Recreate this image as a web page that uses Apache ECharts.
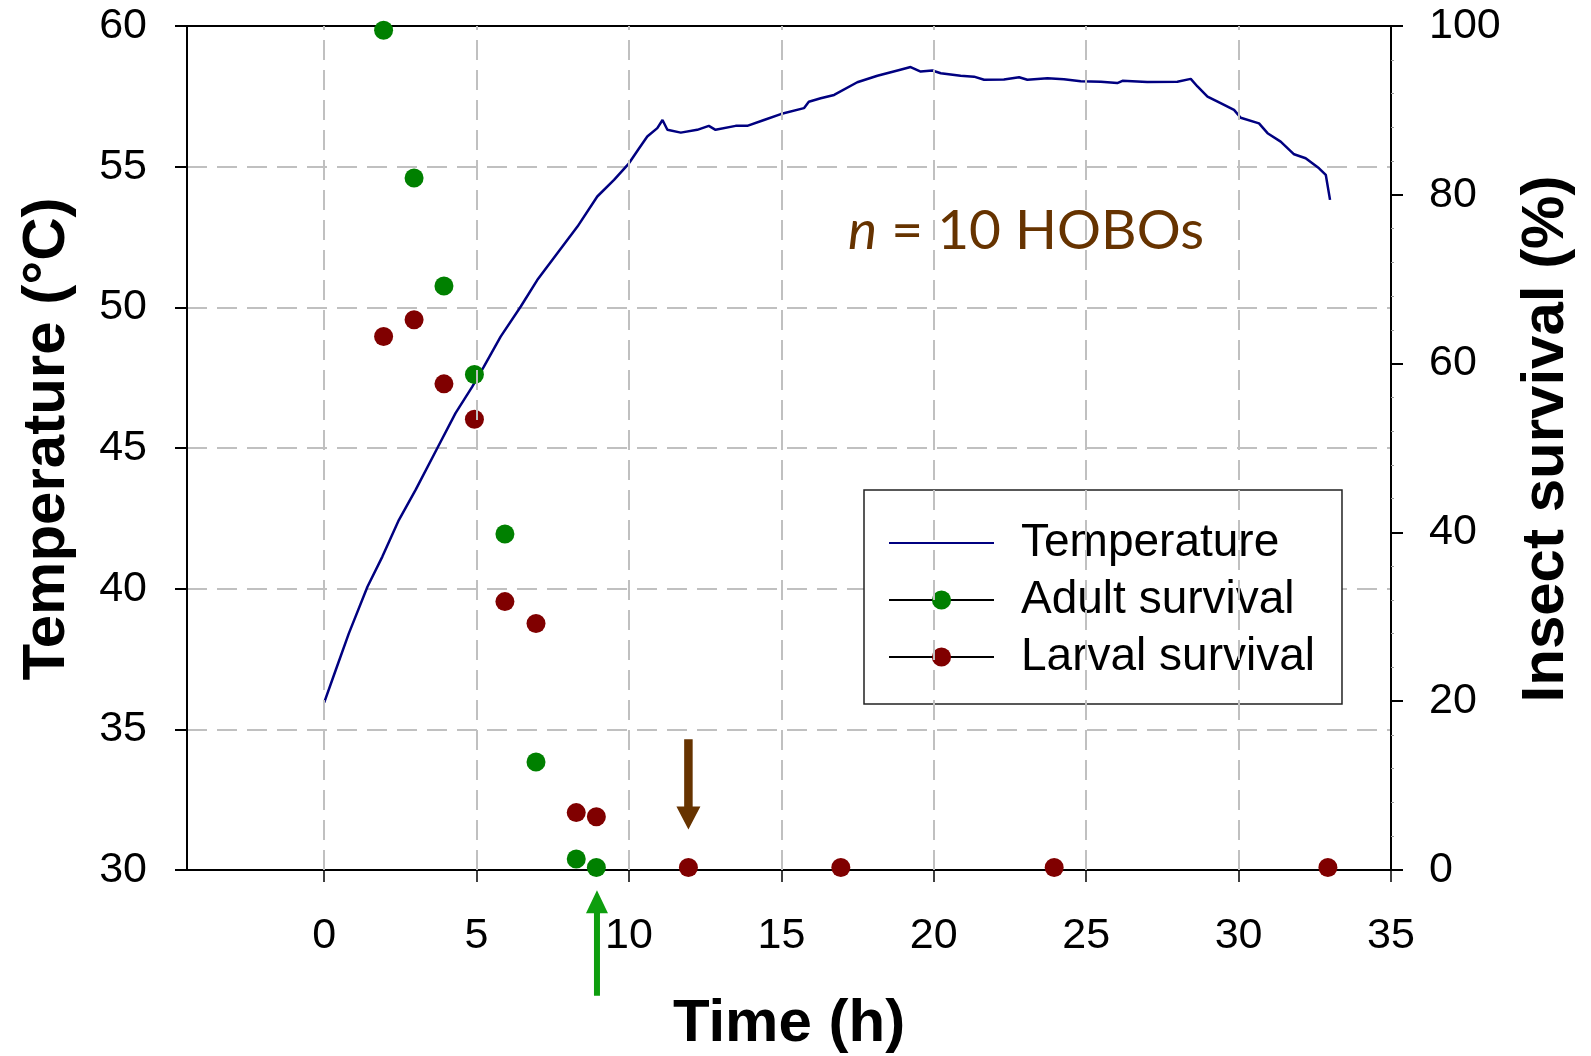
<!DOCTYPE html>
<html>
<head>
<meta charset="utf-8">
<script src="https://cdn.jsdelivr.net/npm/echarts@6/dist/echarts.min.js"></script>
<style>
  html, body { margin: 0; padding: 0; background: #ffffff; }
  #chart { width: 1591px; height: 1056px; }
</style>
</head>
<body>
<div id="chart"></div>
<script>
// Mean HOBO logger temperature over the treatment (h, °C)
const tempHours = [0, 0.38, 0.81, 1.42, 1.91, 2.45, 3.0, 3.71, 4.31, 4.86, 5.24, 5.79, 6.45, 6.99, 7.65,
  8.31, 8.96, 9.51, 10.0, 10.3, 10.6, 10.93, 11.1, 11.26, 11.7, 12.24, 12.62, 12.84, 13.5, 13.88,
  14.43, 14.98, 15.74, 15.9, 16.29, 16.73, 17.49, 18.15, 18.81, 19.24, 19.57, 19.95, 20.23, 20.88,
  21.32, 21.65, 22.3, 22.8, 23.07, 23.73, 24.27, 24.82, 25.48, 26.02, 26.19, 27.0, 27.99, 28.43,
  28.65, 28.98, 29.41, 29.85, 30.07, 30.67, 30.95, 31.38, 31.82, 32.2, 32.64, 32.86, 33.0];
const tempValues = [35.95, 37.11, 38.41, 40.07, 41.14, 42.44, 43.51, 44.99, 46.24, 47.18, 47.89, 48.96,
  50.03, 50.97, 51.92, 52.87, 53.94, 54.53, 55.12, 55.6, 56.07, 56.37, 56.66, 56.31, 56.21, 56.31,
  56.45, 56.31, 56.45, 56.45, 56.66, 56.87, 57.08, 57.31, 57.43, 57.55, 58.0, 58.23, 58.42, 58.54,
  58.38, 58.42, 58.32, 58.23, 58.2, 58.09, 58.1, 58.18, 58.09, 58.14, 58.11, 58.04, 58.02, 57.97,
  58.05, 58.01, 58.02, 58.12, 57.85, 57.49, 57.26, 57.02, 56.74, 56.54, 56.19, 55.89, 55.44, 55.3,
  54.94, 54.71, 53.82];

// Survival of adults and larvae sampled during the treatment (h, %)
const adultHours = [1.95, 2.95, 3.93, 4.93, 5.93, 6.95, 8.27, 8.93];
const adultSurvival = [99.5, 82.0, 69.2, 58.7, 39.8, 12.8, 1.3, 0.3];
const larvalHours = [1.95, 2.95, 3.93, 4.93, 5.93, 6.95, 8.27, 8.93, 11.95, 16.95, 23.95, 32.93];
const larvalSurvival = [63.2, 65.2, 57.6, 53.4, 31.8, 29.2, 6.8, 6.3, 0.3, 0.3, 0.3, 0.3];

// Axis ticks
const timeTicks = [0, 5, 10, 15, 20, 25, 30, 35];
const timeGridLines = [0, 5, 10, 15, 20, 25, 30];

// Arrows marking the time to 100 % mortality (x in h, start and tip on the survival axis)
const arrowHours = [11.95, 8.95];
const arrowFrom = [15.5, -14.9];
const arrowTo = [4.8, -2.4];

const FONT = "'Liberation Sans', Arial, Helvetica, sans-serif";
const ARROW_LOOK = [
  { color: '#663300', shaft: 8.5, headWidth: 24, headLength: 23 },
  { color: '#0e9e0e', shaft: 6, headWidth: 22, headLength: 23 }
];

const pairs = (xs, ys) => xs.map((x, i) => [x, ys[i]]);

const chart = echarts.init(document.getElementById('chart'), null, { renderer: 'canvas' });

chart.setOption({
  animation: false,
  backgroundColor: '#ffffff',
  grid: {
    left: 187, right: 200, top: 26, bottom: 186,
    show: true, borderColor: '#000000', borderWidth: 2,
    containLabel: false, outerBoundsMode: 'none'
  },
  legend: {
    orient: 'vertical',
    left: 864, top: 490,
    padding: [30, 27, 24, 24],
    itemWidth: 105, itemHeight: 24, itemGap: 11,
    borderColor: '#222222', borderWidth: 1.5,
    backgroundColor: '#ffffff',
    selectedMode: false,
    textStyle: { fontFamily: FONT, fontSize: 46, color: '#000000', lineHeight: 44, padding: [0, 0, 0, 22] },
    data: [
      { name: 'Temperature', itemStyle: { opacity: 0 } },
      { name: 'Adult survival', lineStyle: { color: '#000000', width: 2, opacity: 1, type: 'solid' } },
      { name: 'Larval survival', lineStyle: { color: '#000000', width: 2, opacity: 1, type: 'solid' } }
    ]
  },
  xAxis: [
    {
      type: 'value',
      position: 'bottom',
      min: -4.5, max: 35,
      name: 'Time (h)',
      nameLocation: 'middle',
      nameGap: 154,
      nameTextStyle: { fontFamily: FONT, fontSize: 60, fontWeight: 'bold', color: '#000000', verticalAlign: 'middle' },
      axisLine: { show: true, onZero: false, lineStyle: { color: '#000000', width: 2 } },
      axisTick: { show: true, inside: false, length: 12, customValues: timeTicks, lineStyle: { color: '#000000', width: 1.5 } },
      axisLabel: { customValues: timeTicks, margin: 66, verticalAlign: 'middle', fontFamily: FONT, fontSize: 43, color: '#000000' },
      splitLine: { show: false }
    },
    {
      // plain top frame line
      type: 'value',
      position: 'top',
      min: -4.5, max: 35,
      axisLine: { show: true, onZero: false, lineStyle: { color: '#000000', width: 2 } },
      axisTick: { show: false },
      axisLabel: { show: false },
      splitLine: { show: false }
    }
  ],
  yAxis: [
    {
      type: 'value',
      position: 'left',
      min: 30, max: 60, interval: 5,
      name: 'Temperature (°C)',
      nameLocation: 'middle',
      nameRotate: 90,
      nameGap: 140,
      nameTextStyle: { fontFamily: FONT, fontSize: 60, fontWeight: 'bold', color: '#000000', verticalAlign: 'middle', padding: [0, 0, 0, 18] },
      axisLine: { show: true, onZero: false, lineStyle: { color: '#000000', width: 2 } },
      axisTick: { show: true, inside: false, length: 12, lineStyle: { color: '#000000', width: 2 } },
      axisLabel: { margin: 40, fontFamily: FONT, fontSize: 43, color: '#000000' },
      splitLine: { show: true, showMinLine: false, showMaxLine: false, lineStyle: { color: '#c0c0c0', width: 2, type: [20, 10] } }
    },
    {
      type: 'value',
      position: 'right',
      min: 0, max: 100, interval: 20,
      name: 'Insect survival (%)',
      nameLocation: 'middle',
      nameRotate: 90,
      nameGap: 155,
      nameTextStyle: { fontFamily: FONT, fontSize: 60, fontWeight: 'bold', color: '#000000', verticalAlign: 'middle', padding: [0, 0, 0, 18] },
      axisLine: { show: true, onZero: false, lineStyle: { color: '#000000', width: 2 } },
      axisTick: { show: true, inside: false, length: 12, lineStyle: { color: '#000000', width: 2 } },
      minorTick: { show: true, splitNumber: 5, length: 3, lineStyle: { color: '#999999', width: 1 } },
      axisLabel: { margin: 38, fontFamily: FONT, fontSize: 43, color: '#000000' },
      splitLine: { show: false }
    }
  ],
  series: [
    {
      // vertical dashed grid lines at the labelled hours
      type: 'line',
      name: 'hour grid',
      data: [],
      z: 1,
      silent: true,
      markLine: {
        silent: true,
        symbol: ['none', 'none'],
        label: { show: false },
        lineStyle: { color: '#c0c0c0', width: 2, type: [20, 10] },
        emphasis: { disabled: true },
        data: timeGridLines.map(h => ({ xAxis: h }))
      }
    },
    {
      type: 'line',
      name: 'Temperature',
      yAxisIndex: 0,
      data: pairs(tempHours, tempValues),
      showSymbol: false,
      symbol: 'circle',
      smooth: false,
      color: '#000080',
      lineStyle: { color: '#000080', width: 2.5 },
      emphasis: { disabled: true },
      silent: true,
      z: 3
    },
    {
      type: 'line',
      name: 'Adult survival',
      yAxisIndex: 1,
      data: pairs(adultHours, adultSurvival),
      symbol: 'circle',
      symbolSize: 19,
      showSymbol: true,
      clip: false,
      color: '#008000',
      itemStyle: { color: '#008000' },
      lineStyle: { opacity: 0, width: 0 },
      emphasis: { disabled: true },
      silent: true,
      z: 4
    },
    {
      type: 'line',
      name: 'Larval survival',
      yAxisIndex: 1,
      data: pairs(larvalHours, larvalSurvival),
      symbol: 'circle',
      symbolSize: 19,
      showSymbol: true,
      clip: false,
      color: '#800000',
      itemStyle: { color: '#800000' },
      lineStyle: { opacity: 0, width: 0 },
      emphasis: { disabled: true },
      silent: true,
      z: 4
    },
    {
      type: 'custom',
      name: 'arrows',
      coordinateSystem: 'cartesian2d',
      xAxisIndex: 0,
      yAxisIndex: 1,
      clip: false,
      silent: true,
      z: 6,
      data: arrowHours.map((h, i) => [h, arrowFrom[i], arrowTo[i]]),
      renderItem: function (params, api) {
        const look = ARROW_LOOK[params.dataIndex];
        const start = api.coord([api.value(0), api.value(1)]);
        const tip = api.coord([api.value(0), api.value(2)]);
        const dir = tip[1] > start[1] ? 1 : -1;
        const base = tip[1] - dir * look.headLength;
        const cx = tip[0];
        const s = look.shaft / 2;
        const w = look.headWidth / 2;
        return {
          type: 'polygon',
          shape: {
            points: [
              [cx - s, start[1]], [cx + s, start[1]], [cx + s, base],
              [cx + w, base], [cx, tip[1]], [cx - w, base], [cx - s, base]
            ]
          },
          style: { fill: look.color }
        };
      }
    }
  ],
  graphic: [
    {
      type: 'text',
      x: 848,
      y: 231,
      silent: true,
      z: 10,
      style: {
        text: '{i|n} = 10 HOBOs',
        fill: '#663300',
        fontFamily: 'Lato, "Open Sans", sans-serif',
        fontSize: 55,
        align: 'left',
        verticalAlign: 'middle',
        rich: {
          i: { fontStyle: 'italic', fontFamily: 'Lato, "Open Sans", sans-serif', fontSize: 55, fill: '#663300' }
        }
      }
    }
  ]
});
</script>
</body>
</html>
